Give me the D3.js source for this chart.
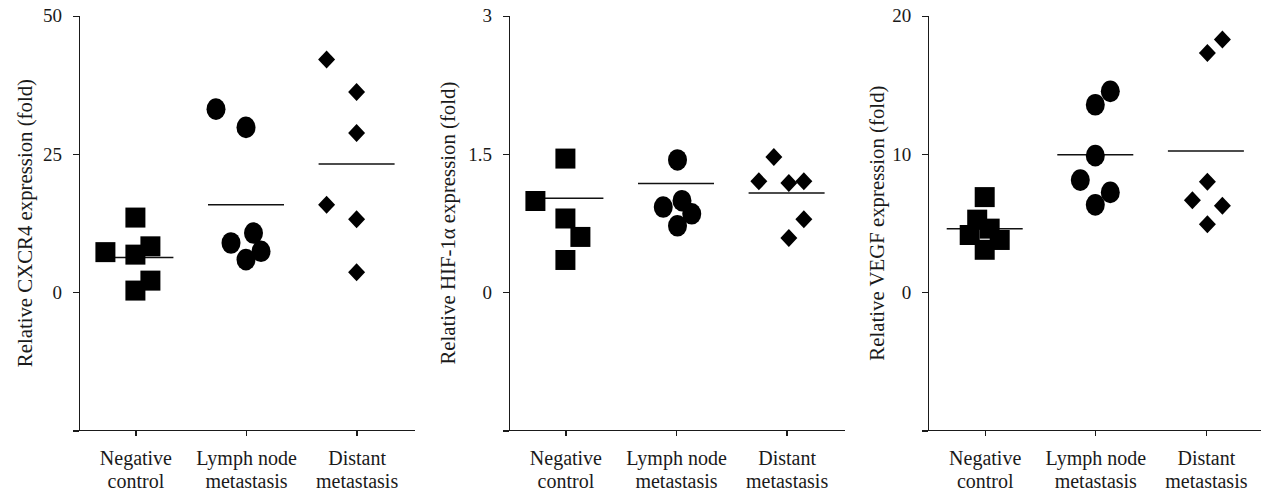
<!DOCTYPE html>
<meta charset="utf-8">
<style>
body { margin: 0; background: #fff; }
svg { font-family: "Liberation Serif", "Times New Roman", serif; }
.axis path, .axis line { stroke: #1a1a1a; stroke-width: 1.3; shape-rendering: crispEdges; }
.axis text { font-family: "Liberation Serif", serif; font-size: 19px; fill: #1a1a1a; }
.xaxis text { font-size: 20px; }
.ylabel { font-size: 20.8px; fill: #1a1a1a; }
.mean { stroke: #111; stroke-width: 1.5; }
.pt { fill: #000; }
</style>
<body>
<script src="https://d3js.org/d3.v7.min.js"></script>
<script>

var categories = ['Negative control', 'Lymph node metastasis', 'Distant metastasis']
var catLines = [['Negative', 'control'], ['Lymph node', 'metastasis'], ['Distant', 'metastasis']]

// values, one list per group
var cxcr4 = [[7.25, 13.5, 6.8, 8.3, 2.1, 0.3],
             [33.1, 29.8, 8.9, 10.7, 7.4, 5.9],
             [42.1, 36.2, 28.8, 15.8, 13.2, 3.6]]
var cxcr4Mean = [6.3, 15.8, 23.2]

var hif1a = [[0.99, 1.45, 0.80, 0.60, 0.35],
             [1.435, 0.924, 0.993, 0.851, 0.721],
             [1.467, 1.203, 1.185, 1.203, 0.793, 0.587]]
var hif1aMean = [1.02, 1.18, 1.076]

var vegf = [[6.88, 5.25, 4.14, 3.78, 3.07, 4.6],
            [14.53, 13.56, 9.88, 8.11, 7.22, 6.32],
            [18.28, 17.31, 7.99, 6.66, 6.25, 4.92]]
var vegfMean = [4.6, 9.95, 10.22]

// horizontal slot of each dot (scatter offset, in marker units)
var cxcr4Slot = [[-2, 0, 0, 1, 1, 0], [-2, 0, -1, 0.5, 1, 0], [-2, 0, 0, -2, 0, 0]]
var hif1aSlot = [[-2, 0, 0, 1, 0], [0.1, -0.85, 0.4, 1.05, 0.1], [-0.85, -1.85, 0.15, 1.15, 1.15, 0.15]]
var vegfSlot = [[0, -0.5, -1, 1, 0, 0.33], [1, 0, 0, -1, 1, 0], [1.1, 0.1, 0.1, -0.9, 1.1, 0.1]]

var cxcr4Ticks = [50, 25, 0, -25]
var hif1aTicks = [3, 1.5, 0, -1.5]
var vegfTicks = [20, 10, 0, -10]

var width = 1261
var height = 494
var yTop = 15.7, yBottom = 430.5
var slotPx = 15

var panels = [
    { left: 79, values: cxcr4, means: cxcr4Mean, slots: cxcr4Slot, ticks: cxcr4Ticks,
      label: 'Relative CXCR4 expression (fold)', labelX: 25 },
    { left: 509, values: hif1a, means: hif1aMean, slots: hif1aSlot, ticks: hif1aTicks,
      label: 'Relative HIF-1\u03b1 expression (fold)', labelX: 448 },
    { left: 928.3, values: vegf, means: vegfMean, slots: vegfSlot, ticks: vegfTicks,
      label: 'Relative VEGF expression (fold)', labelX: 877 }
]

var svg = d3.select('body').append('svg')
    .attr('width', width)
    .attr('height', height)

var square = d3.symbol().type(d3.symbolSquare).size(400)
var diamond = function (d) { return 'M0,-9L8.5,0L0,9L-8.5,0Z' }

panels.forEach(function (p) {
    var y = d3.scaleLinear()
        .domain([p.ticks[3], p.ticks[0]])
        .range([yBottom, yTop])

    var x = d3.scalePoint()
        .domain(categories)
        .range([p.left, p.left + 334])
        .padding(0.51)

    var g = svg.append('g')

    // y axis
    g.append('g')
        .attr('class', 'axis')
        .attr('transform', 'translate(' + p.left + ',0)')
        .call(d3.axisLeft(y)
            .tickValues(p.ticks)
            .tickSize(6)
            .tickSizeOuter(0)
            .tickPadding(11)
            .tickFormat(function (d, i) { return i === 3 ? '' : d }))

    // x axis
    var xa = g.append('g')
        .attr('class', 'axis xaxis')
        .attr('transform', 'translate(0,' + yBottom + ')')
        .call(d3.axisBottom(x)
            .tickSize(5)
            .tickSizeOuter(0)
            .tickFormat(''))
    xa.select('.domain').attr('d', 'M' + p.left + ',0H' + (p.left + 336))

    xa.selectAll('.tick').append('text')
        .attr('fill', '#1a1a1a')
        .attr('text-anchor', 'middle')
        .selectAll('tspan')
        .data(function (d, i) { return catLines[i] })
        .enter().append('tspan')
        .attr('x', 0)
        .attr('y', function (d, i) { return 34 + i * 23 })
        .text(function (d) { return d })

    // y label
    g.append('text')
        .attr('class', 'ylabel')
        .attr('text-anchor', 'middle')
        .attr('transform', 'translate(' + p.labelX + ',' + ((yTop + yBottom) / 2) + ') rotate(-90)')
        .attr('dy', '0.35em')
        .text(p.label)

    // mean lines
    g.selectAll('.mean')
        .data(p.means)
        .enter().append('line')
        .attr('class', 'mean')
        .attr('x1', function (d, i) { return x(categories[i]) - 38 })
        .attr('x2', function (d, i) { return x(categories[i]) + 38 })
        .attr('y1', function (d) { return y(d) })
        .attr('y2', function (d) { return y(d) })

    // dots
    p.values.forEach(function (vals, ci) {
        var cx = x(categories[ci])
        var dots = g.append('g').selectAll('path')
            .data(vals.map(function (v, k) { return { v: v, s: p.slots[ci][k] } }))
            .enter()
        if (ci === 0) {
            dots.append('path')
                .attr('class', 'pt')
                .attr('d', square)
                .attr('transform', function (d) { return 'translate(' + (cx + d.s * slotPx) + ',' + y(d.v) + ')' })
        } else if (ci === 1) {
            dots.append('ellipse')
                .attr('class', 'pt')
                .attr('cx', function (d) { return cx + d.s * slotPx })
                .attr('cy', function (d) { return y(d.v) })
                .attr('rx', 9.5)
                .attr('ry', 10.8)
        } else {
            dots.append('path')
                .attr('class', 'pt')
                .attr('d', diamond)
                .attr('transform', function (d) { return 'translate(' + (cx + d.s * slotPx) + ',' + y(d.v) + ')' })
        }
    })
})

</script>
</body>
